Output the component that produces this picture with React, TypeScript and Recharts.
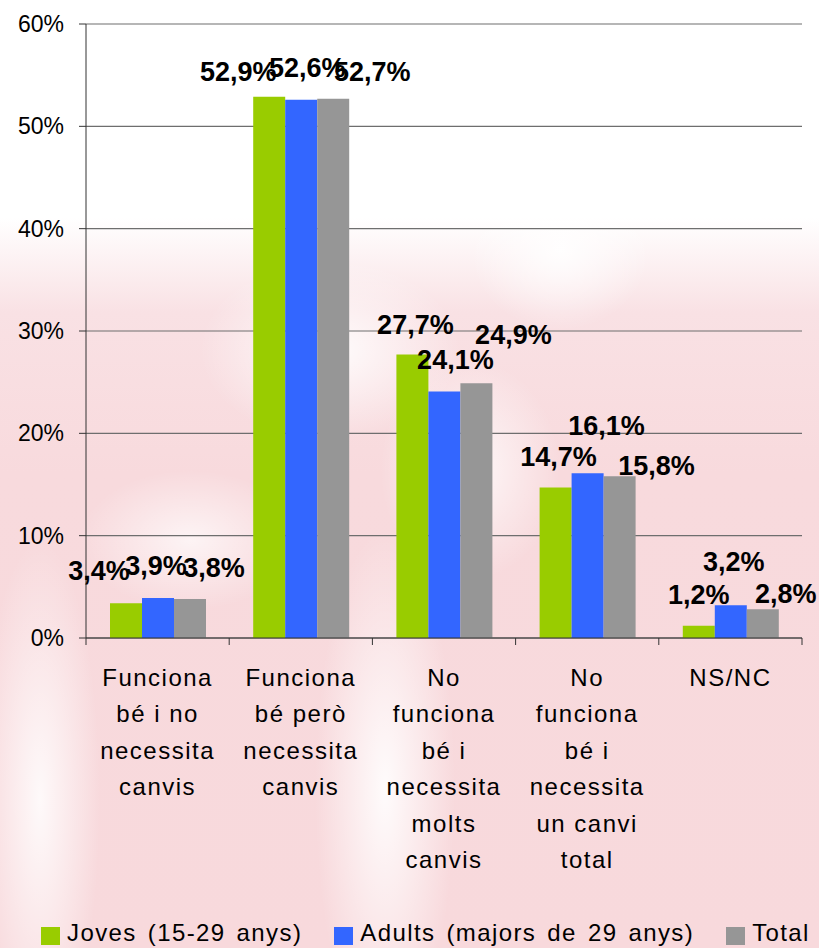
import React from "react";
import {
  BarChart,
  Bar,
  XAxis,
  YAxis,
  CartesianGrid,
  Legend,
  LabelList,
} from "recharts";

// categories (line breaks as in the original axis labels)
const categories = [
  "Funciona\nbé i no\nnecessita\ncanvis",
  "Funciona\nbé però\nnecessita\ncanvis",
  "No\nfunciona\nbé i\nnecessita\nmolts\ncanvis",
  "No\nfunciona\nbé i\nnecessita\nun canvi\ntotal",
  "NS/NC",
];

const joves = [3.4, 52.9, 27.7, 14.7, 1.2];
const adults = [3.9, 52.6, 24.1, 16.1, 3.2];
const total = [3.8, 52.7, 24.9, 15.8, 2.8];

const yTicks = [0, 10, 20, 30, 40, 50, 60];

// label nudges [dx, dy] relative to the bar top centre, hand-placed like the original
const labelShift: Record<string, [number, number][]> = {
  joves: [[-27, -32], [-31, -25], [3, -30], [3, -31], [0, -31]],
  adults: [[-2, -32], [6, -32], [11, -31], [19, -47], [3, -43]],
  total: [[24, -31], [39, -27], [37, -48], [37, -10], [23, -15]],
};

const series = [
  { key: "joves", name: "Joves (15-29 anys)", color: "#99cc00" },
  { key: "adults", name: "Adults (majors de 29 anys)", color: "#3366ff" },
  { key: "total", name: "Total", color: "#969696" },
];

const data = categories.map((c, i) => ({
  cat: c,
  joves: joves[i],
  adults: adults[i],
  total: total[i],
}));

const FONT = '"Liberation Sans", Arial, sans-serif';

const fmt = (v: number) => v.toFixed(1).replace(".", ",") + "%";

const makeLabel = (key: string) => (props: any) => {
  const { x, y, width, value, index } = props;
  const [dx, dy] = labelShift[key][index];
  return (
    <text
      x={x + width / 2 + dx}
      y={y + dy}
      textAnchor="middle"
      dominantBaseline="central"
      fontFamily={FONT}
      fontWeight="bold"
      fontSize={27}
      fill="#000"
    >
      {fmt(value)}
    </text>
  );
};

const CategoryTick = (props: any) => {
  const { x, y, payload, index } = props;
  const half = payload.offset ?? 0;
  const lines = String(payload.value).split("\n");
  return (
    <g>
      <line x1={x - half} x2={x - half} y1={y} y2={y + 7} stroke="#333" />
      {index === categories.length - 1 && (
        <line x1={x + half} x2={x + half} y1={y} y2={y + 7} stroke="#333" />
      )}
      <text
        x={x}
        y={y}
        textAnchor="middle"
        fontFamily={FONT}
        fontSize={24}
        letterSpacing={1.5}
        fill="#000"
      >
        {lines.map((l, i) => (
          <tspan key={i} x={x} y={y + 48 + i * 36.4}>
            {l}
          </tspan>
        ))}
      </text>
    </g>
  );
};

const renderLegend = () => (
  <div
    style={{
      display: "flex",
      alignItems: "center",
      paddingLeft: 41,
      height: 30,
      width: 819,
      fontFamily: FONT,
      fontSize: 24,
      letterSpacing: 1.4,
      wordSpacing: 3,
      color: "#000",
      whiteSpace: "nowrap",
    }}
  >
    {series.map((s) => (
      <div
        key={s.key}
        style={{
          display: "flex",
          alignItems: "center",
          marginRight: 32,
          flexShrink: 0,
        }}
      >
        <span
          style={{
            width: 19,
            height: 18,
            background: s.color,
            marginRight: 7,
            display: "inline-block",
            marginTop: 6,
            flexShrink: 0,
          }}
        />
        <span>{s.name}</span>
      </div>
    ))}
  </div>
);

const background = [
  "radial-gradient(ellipse 60px 260px at 40px 800px, rgba(255,255,255,0.85), rgba(255,255,255,0))",
  "radial-gradient(ellipse 70px 260px at 385px 790px, rgba(255,255,255,0.9), rgba(255,255,255,0))",
  "radial-gradient(ellipse 130px 90px at 330px 350px, rgba(255,255,255,0.9), rgba(255,255,255,0))",
  "radial-gradient(ellipse 90px 110px at 470px 470px, rgba(255,255,255,0.8), rgba(255,255,255,0))",
  "radial-gradient(ellipse 110px 70px at 190px 540px, rgba(255,255,255,0.7), rgba(255,255,255,0))",
  "radial-gradient(ellipse 90px 80px at 560px 250px, rgba(255,255,255,0.9), rgba(255,255,255,0))",
  "linear-gradient(to bottom, #ffffff 0%, #ffffff 23%, #f9e1e4 33%, #f8dadd 50%, #f8d9dc 100%)",
].join(", ");

export default function App() {
  return (
    <div
      style={{
        position: "absolute",
        left: 0,
        top: 0,
        width: 819,
        height: 948,
        background,
      }}
    >
      <BarChart
        width={819}
        height={948}
        data={data}
        margin={{ top: 24, right: 17, bottom: 0, left: 0 }}
        barSize={32}
        barGap={0}
      >
        <CartesianGrid vertical={false} stroke="#6e6e6e" strokeWidth={1.2} />
        <YAxis
          width={86}
          domain={[0, 60]}
          ticks={yTicks}
          tickFormatter={(v: number) => `${v}%`}
          axisLine={{ stroke: "#333" }}
          tickLine={{ stroke: "#333" }}
          tickSize={7}
          tickMargin={15}
          tick={{ fontFamily: FONT, fontSize: 23, fill: "#000" }}
          interval={0}
        />
        <XAxis
          dataKey="cat"
          height={280}
          axisLine={{ stroke: "#333" }}
          tickLine={false}
          tickSize={0}
          tickMargin={0}
          interval={0}
          tick={<CategoryTick />}
        />
        <Legend
          verticalAlign="bottom"
          height={30}
          content={renderLegend}
          wrapperStyle={{ left: 0, width: 819 }}
        />
        {series.map((s) => (
          <Bar
            key={s.key}
            dataKey={s.key}
            name={s.name}
            fill={s.color}
            isAnimationActive={false}
          >
            <LabelList dataKey={s.key} content={makeLabel(s.key)} />
          </Bar>
        ))}
      </BarChart>
    </div>
  );
}
